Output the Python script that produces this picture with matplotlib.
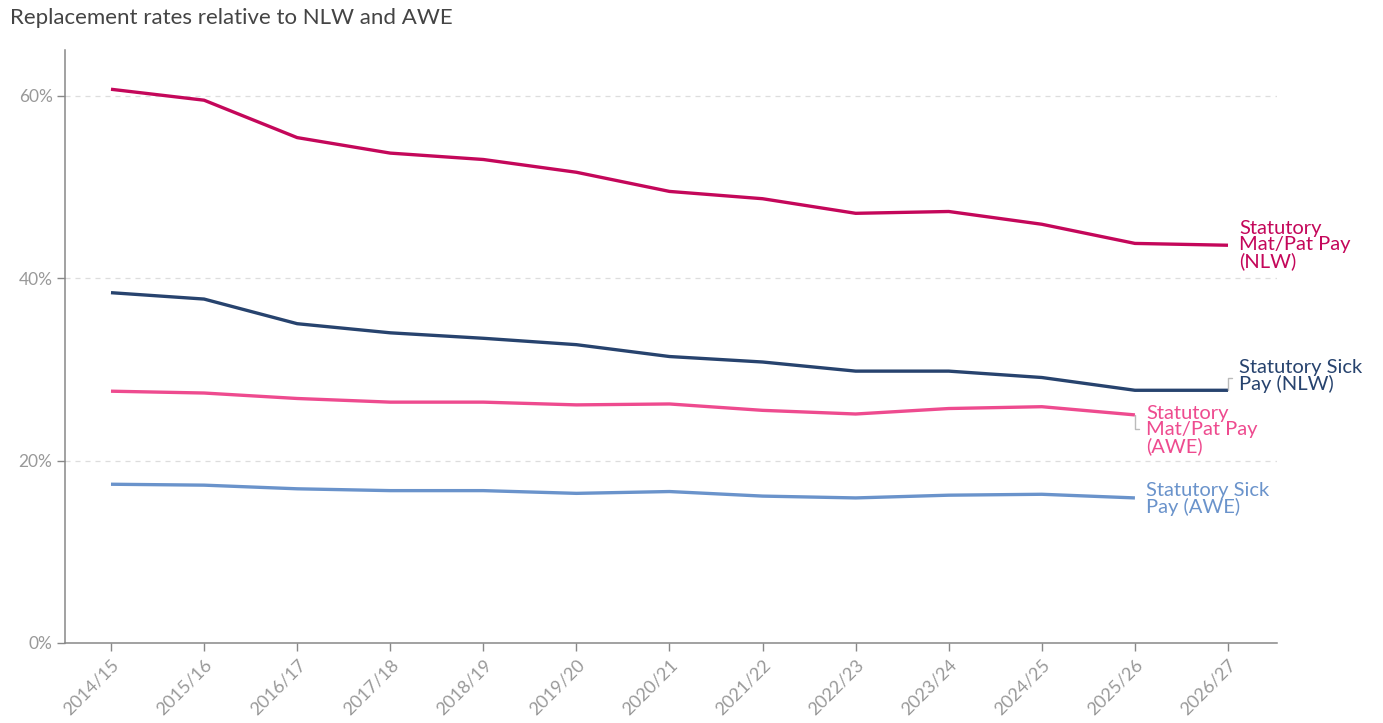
import matplotlib.pyplot as plt
from matplotlib.ticker import FuncFormatter

plt.rcParams['font.family'] = ['Lato', 'DejaVu Sans']

# Financial years and replacement rates (% of NLW / AWE)
years = ['2014/15', '2015/16', '2016/17', '2017/18', '2018/19', '2019/20', '2020/21',
         '2021/22', '2022/23', '2023/24', '2024/25', '2025/26', '2026/27']
matpat_nlw = [60.7, 59.5, 55.4, 53.7, 53.0, 51.6, 49.5, 48.7, 47.1, 47.3, 45.9, 43.8, 43.6]
ssp_nlw = [38.4, 37.7, 35.0, 34.0, 33.4, 32.7, 31.4, 30.8, 29.8, 29.8, 29.1, 27.7, 27.7]
matpat_awe = [27.6, 27.4, 26.8, 26.4, 26.4, 26.1, 26.2, 25.5, 25.1, 25.7, 25.9, 25.0]
ssp_awe = [17.4, 17.3, 16.9, 16.7, 16.7, 16.4, 16.6, 16.1, 15.9, 16.2, 16.3, 15.9]

series = [
    (matpat_nlw, 'Statutory\nMat/Pat Pay\n(NLW)', '#C4075A', 0),
    (ssp_nlw, 'Statutory Sick\nPay (NLW)', '#27436E', 10),
    (matpat_awe, 'Statutory\nMat/Pat Pay\n(AWE)', '#EE4B8F', -11),
    (ssp_awe, 'Statutory Sick\nPay (AWE)', '#6A93CB', -1),
]

fig = plt.figure(figsize=(13.83, 7.23), dpi=100)
ax = fig.add_axes([0.047, 0.1107, 0.8766, 0.8201])

for vals, label, color, dy in series:
    x = list(range(len(vals)))
    ax.plot(x, vals, color=color, lw=2.4, solid_capstyle='butt', zorder=3)
    ax.annotate(label, xy=(x[-1], vals[-1]), xytext=(8, dy), textcoords='offset points',
                color=color, fontsize=14.5, va='center', ha='left', linespacing=0.92)
    if abs(dy) > 5:
        ax.annotate('', xy=(x[-1], vals[-1]), xytext=(3, dy * 0.9),
                    textcoords='offset points',
                    arrowprops=dict(arrowstyle='-', color='#BBBBBB', lw=1,
                                    shrinkA=0, shrinkB=0,
                                    connectionstyle='angle,angleA=0,angleB=90,rad=0'))

ax.set_xlim(-0.494, 12.53)
ax.set_ylim(0, 65)
ax.set_xticks(range(len(years)))
ax.set_xticklabels(years, rotation=45, ha='right', rotation_mode='anchor')
ax.set_yticks([0, 20, 40, 60])
ax.yaxis.set_major_formatter(FuncFormatter(lambda v, p: f'{v:.0f}%'))

for v in [20, 40, 60]:
    ax.axhline(v, color='#DDDDDD', lw=0.9, ls=(0, (4, 4)), zorder=1)

for side in ['top', 'right']:
    ax.spines[side].set_visible(False)
for side in ['left', 'bottom']:
    ax.spines[side].set_color('#888888')
    ax.spines[side].set_linewidth(1.1)
ax.tick_params(axis='both', colors='#888888', labelcolor='#999999', length=6, width=1)
ax.tick_params(axis='x', labelsize=13, pad=4)
ax.tick_params(axis='y', labelsize=12.5, pad=3)

fig.text(0.007, 0.975, 'Replacement rates relative to NLW and AWE', fontsize=16,
         color='#444444', va='center', ha='left')

fig.savefig('out.png', dpi=100)
